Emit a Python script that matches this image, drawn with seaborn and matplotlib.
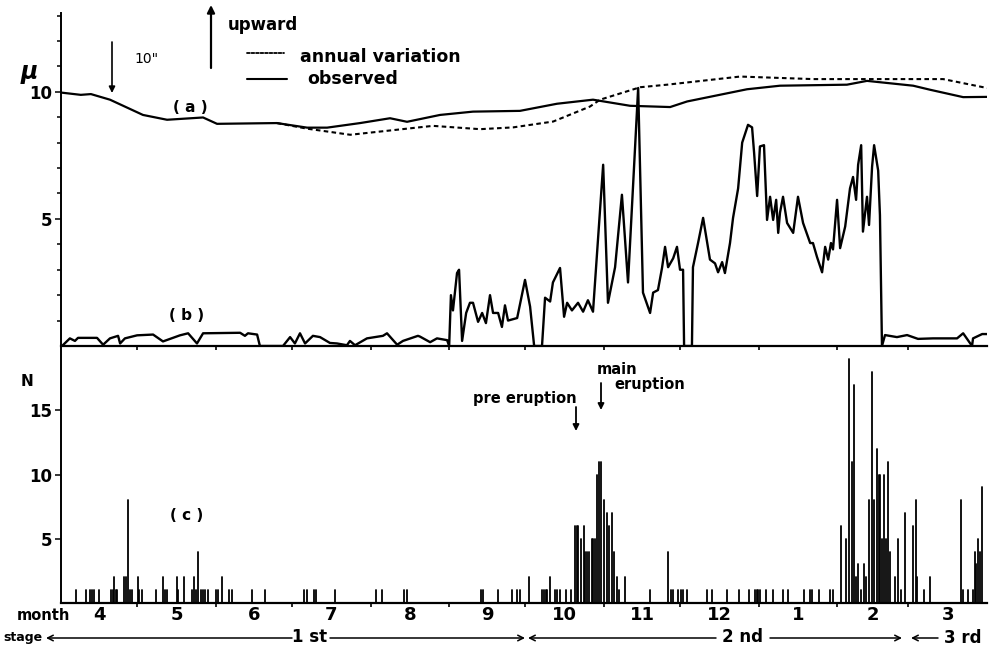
import matplotlib
matplotlib.use("Agg")
import matplotlib.pyplot as plt
import numpy as np
import pandas as pd
import seaborn as sns

# ---------------- data (days since 1 April) ----------------
month_labels = ["4", "5", "6", "7", "8", "9", "10", "11", "12", "1", "2", "3"]
month_lengths = [30, 31, 30, 31, 31, 30, 31, 30, 31, 31, 28, 31]

# (a) tilt, observed
obs_day = [0, 7.8, 11.8, 19.3, 32.3, 41.8, 56.0, 61.5, 85.1, 97.0, 104.9, 117.9, 129.7,
           136.4, 149.4, 162.4, 180.9, 195.5, 209.7, 224.3, 240.1, 246.8, 270.4, 283.4,
           309.8, 317.7, 335.9, 342.6, 355.6, 365]
obs_val = [9.97, 9.88, 9.91, 9.69, 9.09, 8.9, 8.99, 8.74, 8.77, 8.59, 8.59, 8.77, 8.96,
           8.82, 9.09, 9.22, 9.25, 9.53, 9.69, 9.45, 9.4, 9.62, 10.1, 10.24,
           10.28, 10.43, 10.24, 10.08, 9.79, 9.8]

# (a) tilt, annual variation
ann_day = [85.1, 97.0, 114.0, 146.6, 165.2, 178.2, 194.0, 208.5, 212.5, 228.3, 238.9,
           267.7, 296.4, 322.8, 347.7, 365]
ann_val = [8.77, 8.55, 8.31, 8.66, 8.53, 8.6, 8.83, 9.42, 9.69, 10.18, 10.28,
           10.6, 10.5, 10.5, 10.5, 10.15]

# (b) tremor amplitude
trem_day = [0.4, 3.5, 5.5, 6.7, 14.2, 16.6, 19.3, 22.5, 23.3, 25.2, 30.0, 36.3, 40.2, 46.9,
            50.1, 53.6, 56.0, 70.6, 72.5, 73.7, 77.3, 78.4, 87.5, 90.3, 92.2, 94.2, 96.2,
            99.3, 102.1, 106.0, 108.8, 112.7, 113.9, 115.9, 120.6, 126.9, 128.5, 132.5,
            134.8, 140.7, 141.5, 145.5, 148.2, 152.2, 153.0, 153.7, 154.5, 156.1, 156.9,
            158.1, 159.7, 161.2, 162.4, 164.4, 166.0, 167.5, 169.1, 170.3, 172.3, 173.8,
            175.0, 176.2, 179.8, 182.9, 184.9, 186.5, 189.6, 190.8, 192.8, 193.9, 196.7,
            198.3, 199.5, 201.4, 203.8, 205.8, 207.7, 209.7, 213.7, 215.6, 217.2, 218.4,
            221.1, 223.5, 227.5, 229.4, 232.2, 233.4, 235.3, 236.9, 238.1, 239.3, 241.3,
            242.8, 244.0, 245.2, 245.6, 248.7, 249.1, 251.1, 253.1, 255.8, 257.8, 259.0,
            260.6, 261.7, 263.7, 264.9, 266.9, 268.5, 270.8, 272.4, 273.2, 274.4, 275.5,
            277.1, 278.3, 279.5, 280.7, 281.9, 282.7, 283.4, 284.6, 286.2, 288.6, 290.5,
            292.5, 295.3, 296.4, 298.0, 300.0, 301.2, 302.4, 303.5, 304.3, 305.9, 307.1,
            309.1, 311.0, 312.2, 313.4, 314.2, 315.4, 316.1, 317.7, 318.5, 319.7, 320.5,
            322.1, 322.8, 323.6, 324.8, 329.5, 333.5, 337.8, 343.7, 353.2, 355.6, 359.1,
            359.5, 363.1, 365.0]
trem_val = [0, 0.3, 0.2, 0.32, 0.32, 0.05, 0.3, 0.4, 0.1, 0.3, 0.42, 0.45, 0.18, 0.42,
            0.5, 0.1, 0.5, 0.52, 0.4, 0.5, 0.45, 0, 0, 0.35, 0.1, 0.5, 0.1,
            0.4, 0.35, 0.12, 0.1, 0.03, 0.2, 0.03, 0.3, 0.4, 0.5, 0.05,
            0.2, 0.4, 0.37, 0.15, 0.3, 0.23, 0, 2.0, 1.4, 2.87, 3.0,
            0.2, 1.3, 1.7, 1.7, 0.95, 1.3, 0.9, 2.0, 1.3, 1.3, 0.75,
            1.6, 1.0, 1.1, 2.6, 1.55, 0, 0, 1.9, 1.75, 2.5, 3.07,
            1.15, 1.7, 1.4, 1.7, 1.35, 1.8, 1.35, 7.13, 1.7, 2.5, 3.1,
            5.95, 2.5, 10.15, 2.1, 1.3, 2.1, 2.2, 3.07, 3.9, 3.1, 3.45,
            3.9, 3.0, 3.0, 0, 0, 3.1, 4.05, 5.04, 3.4, 3.25, 2.9,
            3.3, 2.87, 4.05, 5.04, 6.2, 8.0, 8.7, 8.6, 7.6, 5.9, 7.85,
            7.9, 4.96, 5.87, 4.96, 5.75, 4.45, 5.24, 5.87, 4.84, 4.45, 5.87,
            4.84, 4.05, 4.05, 3.5, 2.9, 3.9, 3.4, 4.05, 3.8, 5.75, 3.85,
            4.7, 6.2, 6.65, 5.75, 7.13, 7.9, 4.5, 5.87, 4.76, 7.05, 7.9,
            6.9, 5.15, 0, 0.43, 0.35, 0.43, 0.28, 0.3, 0.3, 0.5, 0,
            0.3, 0.47, 0.47]

# (c) number of earthquakes per day
eq_day = [5.9, 9.9, 11.4, 12.3, 13.1, 15.0, 19.6, 20.4, 20.9, 21.7, 22.2, 24.8, 25.6, 26.3,
          27.2, 28.0, 30.2, 30.9, 32.0, 37.3, 40.1, 41.0, 41.9, 45.6, 46.2, 48.5, 51.8,
          52.5, 53.2, 54.1, 55.1, 55.9, 56.8, 57.8, 61.1, 62.0, 63.3, 66.2, 67.3, 75.4,
          80.4, 95.9, 96.9, 99.7, 100.5, 108.0, 124.2, 126.4, 135.2, 136.3, 165.4, 166.5,
          172.2, 177.7, 179.6, 180.9, 184.6, 189.5, 190.4, 191.2, 191.7, 192.6, 194.7,
          195.4, 196.7, 199.0, 200.9, 202.6, 203.3, 203.9, 204.9, 206.0, 206.6, 207.2,
          208.0, 209.2, 209.8, 210.5, 211.2, 212.2, 212.9, 214.1, 215.1, 216.0, 217.1,
          218.1, 219.1, 220.0, 222.4, 232.2, 239.2, 240.3, 241.4, 243.3, 244.3, 245.1,
          246.6, 254.5, 256.5, 262.4, 267.4, 271.3, 273.6, 274.2, 274.9, 275.6, 277.8,
          280.8, 284.5, 286.7, 292.9, 295.3, 296.2, 298.9, 303.1, 304.2, 307.4, 309.4,
          310.6, 311.7, 312.6, 313.3, 314.2, 315.4, 316.4, 317.3, 318.6, 319.8, 320.6,
          321.7, 322.5, 323.0, 323.6, 324.4, 325.1, 325.9, 326.8, 328.8, 329.9, 331.1,
          332.7, 335.7, 336.9, 337.6, 340.2, 342.6, 354.7, 355.4, 357.4, 359.4, 360.3,
          360.7, 361.6, 362.3, 363.1]
eq_n = [1, 1, 1, 1, 1, 1, 1, 1, 2, 1, 1, 2, 2, 8,
        1, 1, 2, 1, 1, 1, 2, 1, 1, 2, 1, 2, 1,
        2, 1, 4, 1, 1, 1, 1, 1, 1, 2, 1, 1, 1,
        1, 1, 1, 1, 1, 1, 1, 1, 1, 1, 1, 1,
        1, 1, 1, 1, 2, 1, 1, 1, 1, 2, 1,
        1, 1, 1, 1, 6, 6, 6, 5, 6, 4, 4,
        4, 5, 5, 5, 10, 11, 11, 8, 7, 6, 7,
        4, 2, 1, 2, 1, 4, 1, 1, 1, 1, 1,
        1, 1, 1, 1, 1, 1, 1, 1, 1, 1, 1,
        1, 1, 1, 1, 1, 1, 1, 1, 1, 6, 5,
        19, 11, 17, 2, 3, 1, 3, 2, 8, 18, 8,
        12, 10, 10, 5, 10, 5, 11, 4, 2, 5, 1,
        7, 6, 8, 2, 1, 2, 8, 1, 1, 1, 4,
        3, 5, 4, 9]

# ---------------- figure ----------------
sns.set_style("ticks")
plt.rcParams['font.family'] = ['DejaVu Sans']
plt.rcParams['font.weight'] = 'bold'
for key in ('text.color', 'axes.edgecolor', 'axes.labelcolor', 'xtick.color', 'ytick.color'):
    plt.rcParams[key] = 'black'

W, H = 993, 651
fig = plt.figure(figsize=(W / 100, H / 100), dpi=100)


def fx(x):
    return x / W


def fy(y):
    return 1 - y / H


ax1 = fig.add_axes([fx(61), fy(346), fx(987) - fx(61), fy(13) - fy(346)])
ax2 = fig.add_axes([fx(61), fy(603), fx(987) - fx(61), fy(346) - fy(603)])
for ax in (ax1, ax2):
    ax.patch.set_alpha(0)
ax2.set_zorder(0)
ax1.set_zorder(1)

# (a)
sns.lineplot(x=obs_day, y=obs_val, ax=ax1, color='black', lw=1.6,
             estimator=None, sort=False)
sns.lineplot(x=ann_day, y=ann_val, ax=ax1, color='black', lw=1.5,
             estimator=None, sort=False, linestyle=(0, (2.2, 1.6)))
# (b)
sns.lineplot(x=trem_day, y=trem_val, ax=ax1, color='black', lw=1.7,
             estimator=None, sort=False)

# (c) vertical bars drawn as 2-point line segments
bars = pd.DataFrame({
    'day': np.repeat(eq_day, 2),
    'N': np.ravel(np.column_stack([np.zeros(len(eq_n)), eq_n])),
    'bar': np.repeat(np.arange(len(eq_day)), 2),
})
sns.lineplot(data=bars, x='day', y='N', units='bar', estimator=None, sort=False,
             ax=ax2, color='black', lw=1.3)

# axes styling
bounds = np.cumsum([0] + month_lengths)
centers = (bounds[:-1] + bounds[1:]) / 2
for ax in (ax1, ax2):
    ax.set_xlim(0, 365)
    ax.set_xlabel('')
    ax.set_ylabel('')
    for s in ('top', 'right'):
        ax.spines[s].set_visible(False)
    ax.spines['left'].set_linewidth(1.4)
    ax.spines['bottom'].set_linewidth(1.6)
    ax.set_xticks(bounds[1:-1])
    ax.tick_params(axis='x', which='major', length=3, width=1.2, direction='out',
                   labelbottom=False)
    ax.tick_params(axis='y', which='both', width=1.1, direction='out',
                   labelsize=12, pad=2)
    ax.tick_params(axis='y', which='major', length=4)
    ax.tick_params(axis='y', which='minor', length=3)

ax1.set_ylim(0, 13.1)
ax1.set_yticks([5, 10])
ax1.set_yticks(np.arange(1, 14), minor=True)
ax2.set_ylim(0, 20)
ax2.set_yticks([5, 10, 15])

ax2.set_xticks(centers, minor=True)
ax2.set_xticklabels(month_labels, minor=True)
ax2.tick_params(axis='x', which='minor', length=0, pad=2, labelsize=13)

# ---------------- annotations (figure pixels, y from top) ----------------


def T(x, y, s, **kw):
    kw.setdefault('ha', 'center')
    kw.setdefault('va', 'center')
    ax1.annotate(s, xy=(x, H - y), xycoords='figure pixels', annotation_clip=False, **kw)


def A(x0, y0, x1, y1, style='-|>', lw=1.4, ms=10):
    ax1.annotate('', xy=(x1, H - y1), xytext=(x0, H - y0), xycoords='figure pixels',
                 textcoords='figure pixels', annotation_clip=False,
                 arrowprops=dict(arrowstyle=style, lw=lw, color='black',
                                 mutation_scale=ms, shrinkA=0, shrinkB=0))


T(29, 72, 'μ', fontsize=17, style='italic')
T(27, 381, 'N', fontsize=11)
T(190, 107, '( a )', fontsize=11)
T(187, 315, '( b )', fontsize=11)
T(187, 516, '( c )', fontsize=11)

# scale bar and upward arrow
A(112, 42, 112, 93, ms=9, lw=1.2)
T(146, 59, '10"', fontsize=10, weight='normal')
A(211, 68, 211, 5, ms=11, lw=1.6)
T(228, 25, 'upward', fontsize=12, ha='left')

# legend
ax1.annotate('', xy=(284, H - 53), xytext=(247, H - 53), xycoords='figure pixels',
             textcoords='figure pixels',
             arrowprops=dict(arrowstyle='-', lw=1.3, color='black',
                             linestyle=(0, (1.5, 1.0)), shrinkA=0, shrinkB=0))
ax1.annotate('', xy=(287, H - 79), xytext=(247, H - 79), xycoords='figure pixels',
             textcoords='figure pixels',
             arrowprops=dict(arrowstyle='-', lw=1.5, color='black', shrinkA=0, shrinkB=0))
T(300, 57, 'annual variation', fontsize=12.5, ha='left')
T(307, 79, 'observed', fontsize=12.5, ha='left')

# eruptions
T(525, 398, 'pre eruption', fontsize=10.5)
A(576, 407, 576, 431, ms=9, lw=1.3)
T(617, 370, 'main', fontsize=10.5)
T(650, 385, 'eruption', fontsize=10.5)
A(601, 383, 601, 410, ms=9, lw=1.3)

# month / stage rows
T(17, 615, 'month', fontsize=10.5, ha='left')
T(3, 638, 'stage', fontsize=9, ha='left')
T(310, 637, '1 st', fontsize=12)
A(292, 638, 46, 638, style='->', lw=1.1, ms=10)
A(330, 638, 525, 638, style='->', lw=1.1, ms=10)
T(742, 637, '2 nd', fontsize=12)
A(716, 638, 528, 638, style='->', lw=1.1, ms=10)
A(770, 638, 902, 638, style='->', lw=1.1, ms=10)
T(963, 638, '3 rd', fontsize=12)
A(938, 638, 911, 638, style='->', lw=1.1, ms=10)

fig.savefig('out.png', dpi=100, facecolor='white')
